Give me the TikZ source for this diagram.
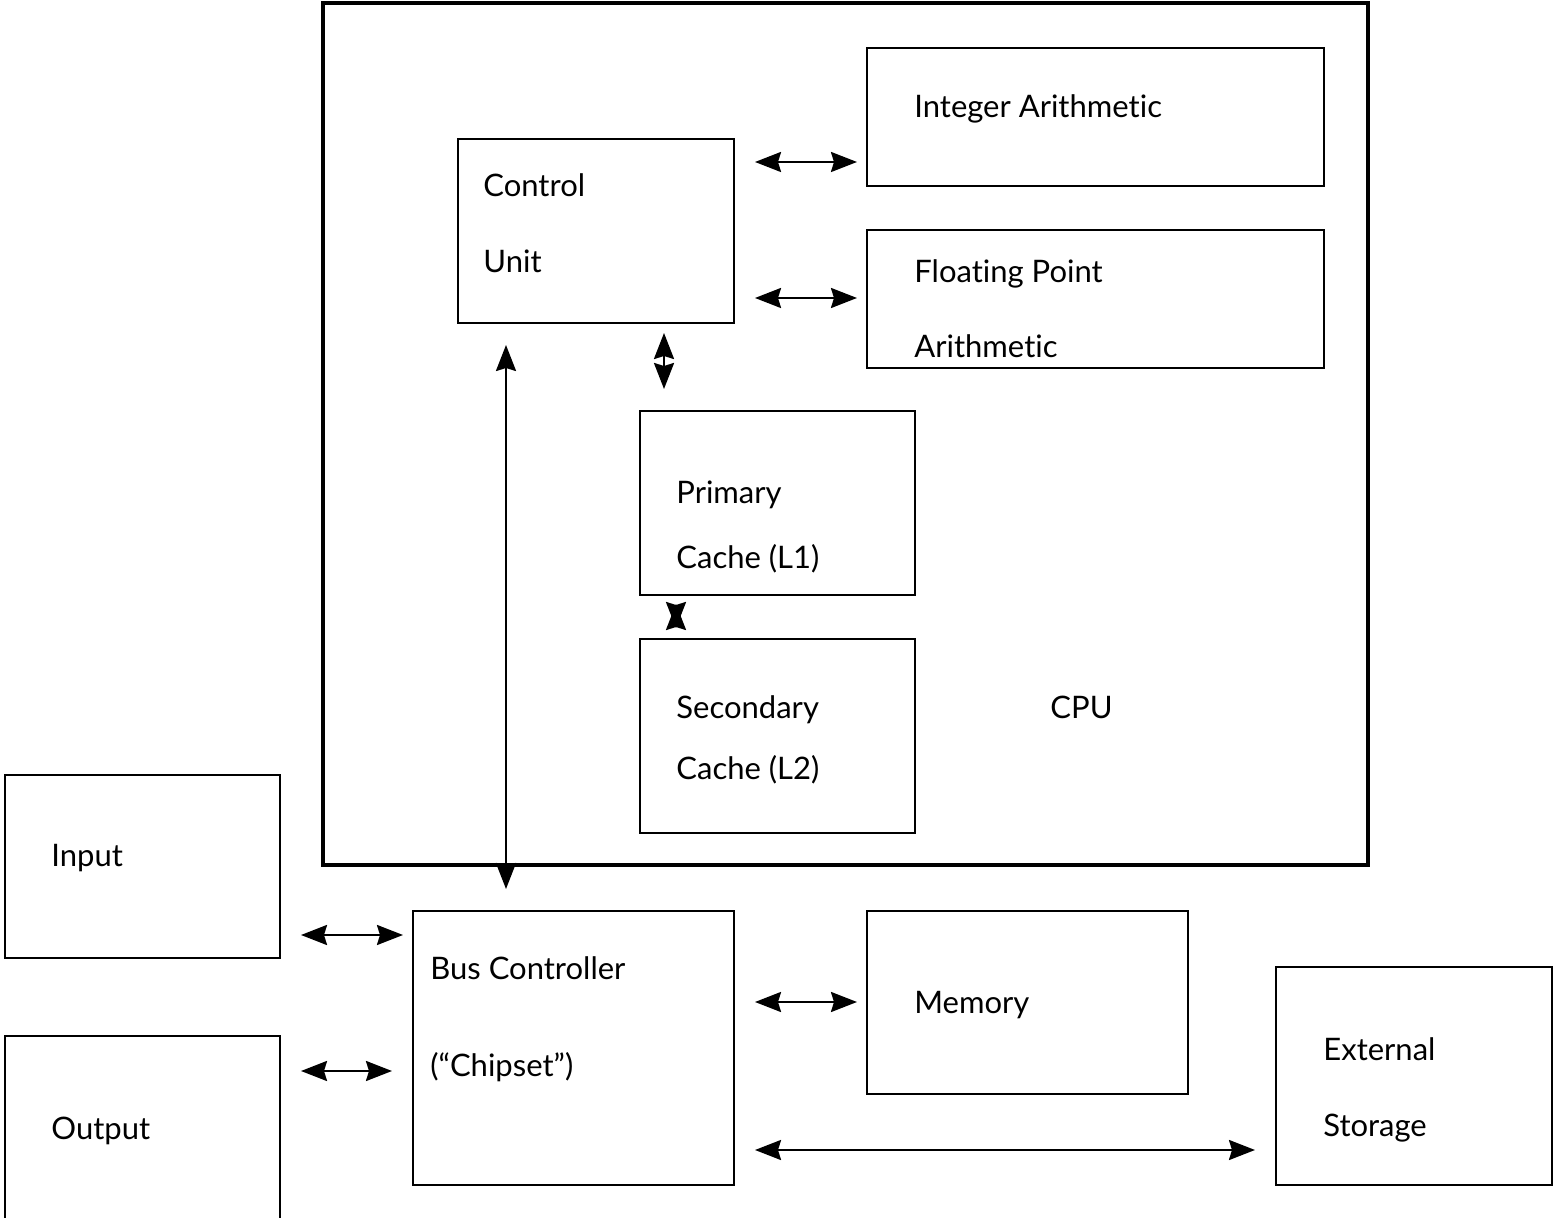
\documentclass[tikz,border=0pt]{standalone}
\usepackage{fontspec}
\setmainfont{Lato}[Ligatures={NoCommon,NoRequired,NoContextual},RawFeature={-liga;-dlig}]
\usetikzlibrary{arrows.meta}
\begin{document}
\begin{tikzpicture}[x=0.5pt,y=-0.5pt,
  box/.style={draw,line width=1pt},
  lbl/.style={anchor=base west,inner sep=0pt,font=\fontsize{15.5}{18}\selectfont},
  link/.style={line width=1.2pt,{Stealth[length=13pt,width=10pt,inset=1.5pt]}-{Stealth[length=13pt,width=10pt,inset=1.5pt]}}]
\useasboundingbox (0,0) rectangle (1553,1218);
\fill[white] (0,0) rectangle (1553,1218);
% CPU
\draw[line width=1.6pt] (323,3) rectangle (1368,865);
\node[lbl] (cpu) at (1050,719) {CPU};
% boxes
\draw[box] (867,48) rectangle (1324,186);
\node[lbl] (ia) at (914,118) {Integer Arithmetic};
\draw[box] (867,230) rectangle (1324,368);
\node[lbl] (fp1) at (914,283) {Floating Point};
\node[lbl] (fp2) at (914,358) {Arithmetic};
\draw[box] (458,139) rectangle (734,323);
\node[lbl] (cu1) at (483,197) {Control};
\node[lbl] (cu2) at (483,273) {Unit};
\draw[box] (640,411) rectangle (915,595);
\node[lbl] (l11) at (676,504) {Primary};
\node[lbl] (l12) at (676,569) {Cache (L1)};
\draw[box] (640,639) rectangle (915,833);
\node[lbl] (l21) at (676,719) {Secondary};
\node[lbl] (l22) at (676,780) {Cache (L2)};
\draw[box] (5,775) rectangle (280,958);
\node[lbl] (in) at (51,867) {Input};
\draw[box] (5,1230) |- (280,1036) -- (280,1230);
\node[lbl] (out) at (51,1139) {Output};
\draw[box] (413,911) rectangle (734,1185);
\node[lbl] (bc1) at (430,979) {Bus Controller};
\node[lbl] (bc2) at (430,1076) {(“Chipset”)};
\draw[box] (867,911) rectangle (1188,1094);
\node[lbl] (mem) at (914,1013) {Memory};
\draw[box] (1276,967) rectangle (1552,1185);
\node[lbl] (es1) at (1323,1060) {External};
\node[lbl] (es2) at (1323,1136) {Storage};
% connector end points
\coordinate (a1) at (755,162);  \coordinate (b1) at (857,162);
\coordinate (a2) at (755,298);  \coordinate (b2) at (857,298);
\coordinate (a3) at (664,333);  \coordinate (b3) at (664,389);
\coordinate (a4) at (676,604);  \coordinate (b4) at (676,628);
\coordinate (a5) at (506,345);  \coordinate (b5) at (506,889);
\coordinate (a6) at (301,935);  \coordinate (b6) at (403,935);
\coordinate (a7) at (301,1071); \coordinate (b7) at (392,1071);
\coordinate (a8) at (755,1002); \coordinate (b8) at (857,1002);
\coordinate (a9) at (755,1150); \coordinate (b9) at (1255,1150);
\foreach \i in {1,...,9} {\draw[link] (a\i) -- (b\i);}
\end{tikzpicture}
\end{document}
